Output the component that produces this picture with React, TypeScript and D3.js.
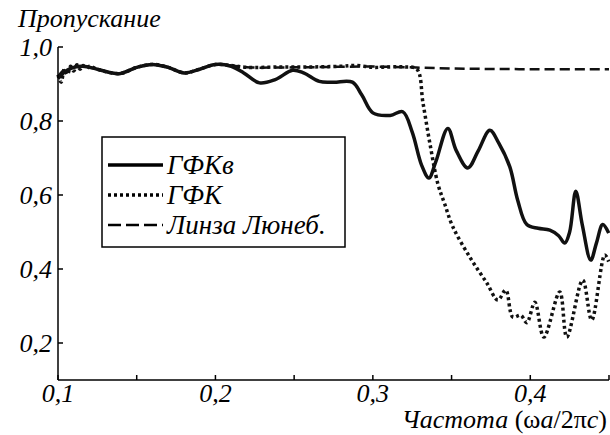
import React from "react";
import * as d3 from "d3";

const xTicksLabeled = [0.1, 0.2, 0.3, 0.4];
const xTicksAll = [0.1, 0.15, 0.2, 0.25, 0.3, 0.35, 0.4, 0.45];
const yTicks = [0.2, 0.4, 0.6, 0.8, 1.0];

const seriesNames = ["ГФКв", "ГФК", "Линза Люнеб."];

const gfkvX = [0.100, 0.105, 0.110, 0.116, 0.125, 0.139, 0.150, 0.160, 0.170, 0.180, 0.190, 0.200, 0.210, 0.218, 0.228, 0.238, 0.249, 0.256, 0.266, 0.275, 0.287, 0.293, 0.300, 0.311, 0.319, 0.325, 0.331, 0.3356, 0.340, 0.3476, 0.353, 0.3603, 0.367, 0.3743, 0.380, 0.387, 0.392, 0.3978, 0.405, 0.4124, 0.418, 0.4219, 0.425, 0.4289, 0.433, 0.4384, 0.442, 0.446, 0.4498];
const gfkvY = [0.915, 0.935, 0.945, 0.948, 0.940, 0.928, 0.945, 0.953, 0.945, 0.930, 0.940, 0.953, 0.948, 0.930, 0.903, 0.912, 0.937, 0.930, 0.907, 0.905, 0.905, 0.870, 0.822, 0.815, 0.825, 0.770, 0.680, 0.646, 0.690, 0.780, 0.720, 0.673, 0.720, 0.775, 0.740, 0.676, 0.586, 0.520, 0.510, 0.505, 0.490, 0.470, 0.500, 0.610, 0.520, 0.424, 0.470, 0.520, 0.497];

const gfkX = [0.100, 0.102, 0.104, 0.106, 0.108, 0.110, 0.112, 0.114, 0.116, 0.118, 0.120, 0.125, 0.139, 0.150, 0.160, 0.170, 0.180, 0.190, 0.200, 0.210, 0.220, 0.240, 0.260, 0.280, 0.290, 0.300, 0.310, 0.320, 0.328, 0.3318, 0.3362, 0.3413, 0.3457, 0.3508, 0.3616, 0.3724, 0.3794, 0.3844, 0.3889, 0.3940, 0.3978, 0.4029, 0.4086, 0.4187, 0.4232, 0.4333, 0.4390, 0.4473, 0.4498];
const gfkY = [0.925, 0.905, 0.940, 0.925, 0.948, 0.935, 0.952, 0.940, 0.950, 0.942, 0.948, 0.940, 0.928, 0.945, 0.953, 0.945, 0.930, 0.940, 0.953, 0.950, 0.945, 0.946, 0.946, 0.948, 0.950, 0.945, 0.946, 0.946, 0.940, 0.850, 0.740, 0.630, 0.575, 0.514, 0.432, 0.362, 0.316, 0.343, 0.270, 0.275, 0.255, 0.310, 0.216, 0.338, 0.216, 0.370, 0.262, 0.438, 0.420];

const lensX = [0.100, 0.103, 0.106, 0.110, 0.116, 0.125, 0.139, 0.150, 0.160, 0.170, 0.180, 0.190, 0.200, 0.210, 0.220, 0.250, 0.300, 0.350, 0.400, 0.450];
const lensY = [0.920, 0.935, 0.940, 0.945, 0.948, 0.940, 0.928, 0.945, 0.953, 0.945, 0.930, 0.940, 0.953, 0.950, 0.945, 0.945, 0.947, 0.942, 0.940, 0.940];

const W = 610;
const H = 435;
const left = 58;
const right = 609;
const top = 47;
const bottom = 380;

const FONT = "Liberation Serif";

export default function App() {
  const x = d3.scaleLinear().domain([0.1, 0.45]).range([left, right]);
  const y = d3.scaleLinear().domain([0.1, 1.0]).range([bottom, top]);
  const line = d3
    .line<[number, number]>()
    .x((d) => x(d[0]))
    .y((d) => y(d[1]))
    .curve(d3.curveCatmullRom.alpha(0.5));

  const zip = (a: number[], b: number[]) => a.map((v, i) => [v, b[i]] as [number, number]);
  const styles = [
    { w: 3.5, dash: "none" },
    { w: 3.5, dash: "3,3" },
    { w: 2.5, dash: "10,5" },
  ];
  const data = [zip(gfkvX, gfkvY), zip(gfkX, gfkY), zip(lensX, lensY)];

  const legX = 102, legY = 137, legW = 243, legH = 110;
  const rowY = [165, 195, 225];
  const legendDash = ["none", "3,3", "13,5"];
  const ts: React.CSSProperties = { fontFamily: FONT, fontStyle: "italic", fontSize: 26 };
  const tsUp: React.CSSProperties = { fontFamily: FONT, fontStyle: "normal", fontSize: 26 };

  return (
    <svg width={W} height={H} style={{ position: "absolute", left: 0, top: 0, background: "#fff" }}>
      <rect x={0} y={0} width={W} height={H} fill="#fff" />
      {[2, 1, 0].map((i) => (
        <path
          key={i}
          d={line(data[i]) || ""}
          fill="none"
          stroke="#111"
          strokeWidth={styles[i].w}
          strokeDasharray={styles[i].dash}
          strokeLinejoin="round"
        />
      ))}
      <line x1={left} x2={left} y1={top} y2={bottom} stroke="#000" strokeWidth={1.5} />
      <line x1={left} x2={right} y1={bottom} y2={bottom} stroke="#000" strokeWidth={1.5} />
      {yTicks.map((t) => (
        <g key={"y" + t}>
          <line x1={left} x2={left + 5} y1={y(t)} y2={y(t)} stroke="#000" strokeWidth={1.5} />
          <text x={left - 6} y={y(t)} dy="0.33em" textAnchor="end" style={ts}>
            {d3.format(".1f")(t).replace(".", ",")}
          </text>
        </g>
      ))}
      {xTicksAll.map((t) => (
        <line key={"xt" + t} x1={x(t)} x2={x(t)} y1={bottom} y2={bottom - 5} stroke="#000" strokeWidth={1.5} />
      ))}
      {xTicksLabeled.map((t) => (
        <text key={"xl" + t} x={x(t)} y={402} textAnchor="middle" style={ts}>
          {d3.format(".1f")(t).replace(".", ",")}
        </text>
      ))}
      <text x={18} y={27} style={ts}>Пропускание</text>
      <text x={607} y={428} textAnchor="end" style={tsUp}>
        <tspan style={ts}>Частота</tspan>
        <tspan style={tsUp}> (ω</tspan>
        <tspan style={ts}>a</tspan>
        <tspan style={tsUp}>/2π</tspan>
        <tspan style={ts}>c</tspan>
        <tspan style={tsUp}>)</tspan>
      </text>
      <rect x={legX} y={legY} width={legW} height={legH} fill="#fff" stroke="#000" strokeWidth={1.5} />
      {seriesNames.map((n, i) => (
        <g key={n}>
          <line
            x1={108}
            x2={163}
            y1={rowY[i]}
            y2={rowY[i]}
            stroke="#000"
            strokeWidth={styles[i].w}
            strokeDasharray={legendDash[i]}
          />
          <text x={167} y={rowY[i] + 9} style={{ ...ts, fontSize: 27 }}>{n}</text>
        </g>
      ))}
    </svg>
  );
}
